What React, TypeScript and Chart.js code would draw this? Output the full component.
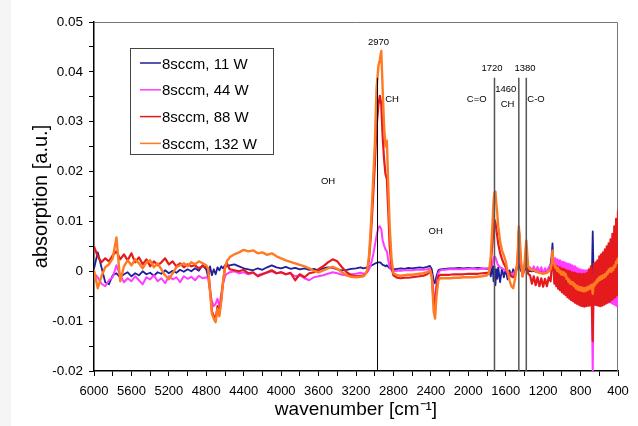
import React, { useEffect, useRef } from "react";
import { Chart, registerables } from "chart.js";

Chart.register(...registerables);

// ---------- data (wavenumber in cm^-1, absorption in a.u.) ----------
const wavenumbers = [
  6000, 5960, 5920, 5880, 5840, 5800, 5760, 5720, 5680, 5640, 5600, 5560, 5520, 5480, 5440, 5400,
  5360, 5320, 5280, 5240, 5200, 5160, 5120, 5080, 5040, 5000, 4960, 4920, 4880, 4840, 4800,
  4780, 4760, 4740, 4720, 4700, 4680, 4660, 4640, 4620, 4600, 4580,
  4550, 4500, 4450, 4400, 4350, 4300, 4250, 4200, 4150, 4100, 4050, 4000, 3950, 3900, 3850, 3800,
  3750, 3700, 3650, 3600, 3550, 3500, 3450, 3400, 3350, 3300, 3250, 3200, 3150,
  3120, 3100, 3080, 3060, 3040, 3020, 3000, 2980, 2960, 2945, 2930, 2915, 2900, 2885, 2870, 2855,
  2840, 2820, 2800,
  2760, 2720, 2680, 2640, 2600, 2560, 2520, 2480, 2440, 2410, 2390, 2370, 2355, 2340, 2320, 2300,
  2250, 2200, 2150, 2100, 2050, 2000, 1950, 1900, 1850, 1800,
  1780, 1760, 1740, 1730, 1720, 1710, 1700, 1690, 1680, 1660,
  1640, 1620, 1600, 1580, 1560, 1540, 1520, 1500, 1480, 1470,
  1460, 1450, 1440, 1420, 1400, 1390, 1380, 1370, 1360, 1340,
  1320, 1300, 1280, 1260, 1240, 1220, 1200, 1180, 1160, 1140,
  1120,
];

const abs11W = [
  0.0005, 0.0038, 0.0008, -0.0022, -0.0026, -0.0008, -0.0004, -0.0012, -0.0006, -0.0002, -0.001,
  -0.0004, -0.0008, 0.0, -0.0006, -0.0003, -0.0009, -0.0002, -0.0005, 0.0002, -0.0004, 0.0001,
  -0.0003, 0.0003, -0.0001, 0.0004, 0.0, 0.0006, 0.0001, 0.0012, 0.0004,
  -0.0012, 0.001, -0.0008, 0.0004, -0.0006, 0.0008, 0.0002, 0.001, 0.0006, 0.0012, 0.001,
  0.0012, 0.0014, 0.001, 0.0006, 0.0004, 0.0002, 0.0006, 0.0003, 0.0008, 0.0012,
  0.0008, 0.0006, 0.0009, 0.0005, 0.0007, 0.0004, 0.0006, 0.0003, 0.0005, 0.0002,
  0.0006, 0.0008, 0.0007, 0.0004, 0.0002, 0.0003, 0.0005, 0.0006, 0.0008,
  0.0006, 0.0007, 0.0008, 0.001, 0.0011, 0.0013, 0.0015, 0.0017, 0.0018, 0.0018, 0.0016, 0.0013,
  0.0012, 0.001, 0.0012, 0.0009, 0.0006, 0.0005, 0.0004,
  0.0005, 0.0006, 0.0005, 0.0007, 0.0006, 0.0007, 0.0008, 0.0007, 0.0009, 0.0011, 0.0004, -0.0018,
  -0.0024, -0.001, 0.0002, 0.0004,
  0.0005, 0.0006, 0.0006, 0.0007, 0.0006, 0.0007, 0.0006, 0.0007, 0.0006, 0.0005,
  0.0006, -0.001, 0.0012, -0.002, 0.001, -0.0028, 0.0004, -0.0015, 0.0008, -0.0022,
  0.0006, -0.0012, 0.0004, -0.0016, 0.0002, -0.001, 0.0004, -0.0008, 0.0006, 0.001,
  0.0016, 0.0008, 0.0002, -0.0004, 0.0002, 0.0004, 0.0006, 0.0002, 0.0, 0.0001,
  0.0, 0.0001, -0.0001, 0.0, -0.0001, 0.0, -0.0001, 0.0, 0.0001, 0.0004,
  0.0015,
];

const abs44W = [
  -0.0004, -0.0012, -0.0025, -0.003, -0.0018, -0.0012, 0.0012, -0.0008, -0.0022, -0.0014, -0.002,
  -0.001, -0.0018, -0.0026, -0.0012, -0.0016, -0.0008, -0.002, -0.0014, -0.0024, -0.001, -0.0016,
  -0.0012, -0.0022, -0.001, -0.0015, -0.0011, -0.0018, -0.0009, -0.0014, -0.0012,
  -0.0015, -0.004, -0.006, -0.007, -0.0065, -0.0055, -0.007, -0.0045, -0.0025, -0.001, -0.0005,
  -0.0002, 0.0, -0.0004, -0.0002, -0.0006, -0.0003, -0.0008, -0.0005, -0.0003, 0.0,
  -0.0004, -0.0002, -0.0006, -0.0004, -0.001, -0.0008, -0.0014, -0.0018, -0.0012, -0.001,
  -0.0008, -0.0005, -0.0002, -0.0004, -0.0007, -0.0008, -0.0006, -0.0005, -0.0003,
  -0.0005, -0.0004, -0.0002, 0.0004, 0.0014, 0.003, 0.005, 0.0072, 0.0088, 0.009, 0.0085, 0.0062,
  0.0052, 0.0044, 0.004, 0.0022, 0.0008, 0.0002, 0.0,
  0.0001, 0.0001, 0.0002, 0.0002, 0.0002, 0.0003, 0.0003, 0.0003, 0.0004, 0.0006, -0.0008, -0.0048,
  -0.0055, -0.0025, -0.0003, 0.0002,
  0.0003, 0.0004, 0.0004, 0.0004, 0.0004, 0.0005, 0.0005, 0.0004, 0.0005, 0.0006,
  0.0006, 0.0008, 0.0015, 0.0025, 0.003, 0.0028, 0.0022, 0.0016, 0.0012, 0.0008,
  0.0006, 0.0004, 0.0002, -0.0002, -0.0004, -0.0006, -0.0004, 0.0, 0.0008, 0.0018,
  0.0032, 0.0022, 0.001, 0.0002, 0.0008, 0.0014, 0.002, 0.0012, 0.0006, 0.0008,
  0.0002, 0.001, 0.0, 0.0009, -0.0002, 0.0008, -0.0004, 0.0006, -0.0002, 0.0008,
  0.0012,
];

const abs88W = [
  0.005, 0.003, 0.0018, 0.0026, 0.002, 0.0032, 0.004, 0.0024, 0.0034, 0.0022, 0.0036, 0.0018,
  0.0028, 0.0014, 0.0024, 0.001, 0.002, 0.0012, 0.0018, 0.0026, 0.0014, 0.002, 0.001, 0.0016,
  0.0008, 0.0014, 0.001, 0.0012, 0.0006, 0.001, 0.0008,
  0.0005, -0.0036, -0.008, -0.009, -0.0096, -0.007, -0.0085, -0.0056, -0.0019, 0.0006, 0.0016,
  0.0004, 0.0002, 0.0, 0.0003, -0.0004, -0.0002, -0.001, -0.0006, -0.0002, 0.0002,
  -0.0004, -0.0002, -0.0006, -0.0003, -0.0018, -0.0006, -0.0012, -0.0004, -0.0002, 0.0004,
  0.001, 0.0018, 0.0024, 0.002, 0.0008, -0.0002, -0.0008, -0.001, -0.0009,
  -0.0009, -0.0005, 0.0001, 0.0025, 0.0075, 0.014, 0.021, 0.029, 0.0335, 0.0352, 0.0335, 0.027,
  0.0225, 0.0195, 0.0185, 0.012, 0.005, 0.0008, -0.0008,
  -0.0013, -0.0014, -0.0013, -0.0013, -0.0012, -0.0011, -0.001, -0.0009, -0.0006, 0.0, -0.001,
  -0.006, -0.0072, -0.0035, -0.001, -0.0007,
  -0.0007, -0.0007, -0.0006, -0.0006, -0.0006, -0.0005, -0.0005, -0.0005, -0.0004, -0.0003,
  -0.0003, 0.0015, 0.006, 0.0092, 0.0103, 0.0098, 0.0083, 0.007, 0.0055, 0.0037,
  0.0025, 0.0015, 0.0008, 0.0, -0.0005, -0.001, -0.0012, -0.0006, 0.001, 0.0035,
  0.0082, 0.006, 0.002, -0.001, 0.0005, 0.0025, 0.0042, 0.002, -0.0005, -0.0008,
  -0.0025, -0.001, -0.0028, -0.0012, -0.003, -0.0014, -0.0031, -0.0015, -0.003, -0.0012,
  -0.002,
];

const abs132W = [
  0.0002, -0.0034, -0.001, 0.0008, 0.0014, 0.0026, 0.0068, -0.002, 0.001, 0.0022, 0.0012, 0.0024,
  0.0016, 0.0006, 0.0018, 0.0022, 0.0008, 0.0016, 0.0004, -0.0008, -0.0016, -0.0004, 0.0008,
  0.0012, 0.0016, 0.001, 0.0018, 0.0014, 0.002, 0.0016, 0.0012,
  0.0005, -0.004, -0.0085, -0.0095, -0.0102, -0.0075, -0.009, -0.006, -0.002, 0.0008, 0.002,
  0.0028, 0.0034, 0.0038, 0.0043, 0.004, 0.0042, 0.0036, 0.0038, 0.0033, 0.0036,
  0.003, 0.0026, 0.0022, 0.0019, 0.0016, 0.0013, 0.001, 0.0006, 0.0001, -0.0002,
  0.0002, 0.0006, 0.0009, 0.0005, -0.0002, -0.0008, -0.0011, -0.0012, -0.0011,
  -0.001, -0.0006, 0.0002, 0.0033, 0.0095, 0.017, 0.025, 0.0368, 0.0412, 0.0425, 0.0442, 0.0365,
  0.029, 0.025, 0.0262, 0.017, 0.009, 0.0025, -0.0004,
  -0.0008, -0.0009, -0.0008, -0.0007, -0.0007, -0.0006, -0.0005, -0.0004, -0.0002, 0.0002, -0.001,
  -0.008, -0.0095, -0.005, -0.0018, -0.0014,
  -0.0014, -0.0014, -0.0013, -0.0013, -0.0012, -0.0012, -0.0012, -0.0011, -0.001, -0.0008,
  -0.0004, 0.003, 0.01, 0.014, 0.0158, 0.016, 0.0135, 0.0115, 0.009, 0.006,
  0.0042, 0.0032, 0.002, 0.0, -0.0018, -0.003, -0.0034, -0.0015, 0.0012, 0.004,
  0.009, 0.007, 0.0028, -0.001, 0.0012, 0.004, 0.0062, 0.0035, 0.001, 0.0004,
  0.0002, 0.0003, 0.0, -0.0002, -0.0003, -0.0004, -0.0005, -0.0004, -0.0003, 0.0,
  0.0004,
];

const tailWavenumbers = [
  1110, 1100, 1090, 1080, 1070, 1060, 1050, 1040, 1030, 1020,
  1010, 1000, 990, 980, 970, 960, 950, 940, 930, 920,
  910, 900, 890, 880, 870, 860, 850, 840, 830, 820,
  810, 800, 790, 780, 770, 760, 750, 740, 730, 720,
  710, 700, 690, 680, 670, 660, 650, 640, 630, 620,
  610, 600, 590, 580, 570, 560, 550, 540, 530, 520,
  510, 500, 490, 480, 470, 460, 450, 440, 430, 420,
  410, 400,
];

const tail11W = [
  0.003, 0.0056, 0.0015, 0.0002, -0.0002, -0.0004, -0.0005, -0.0006, -0.0007, -0.0008,
  -0.0009, -0.001, -0.0011, -0.0012, -0.0012, -0.0013, -0.0014, -0.0015, -0.0015, -0.0016,
  -0.0016, -0.0017, -0.0017, -0.0018, -0.0018, -0.0019, -0.0019, -0.002, -0.002, -0.002,
  -0.0021, -0.0021, -0.0021, -0.0021, -0.0021, -0.0021, -0.002, -0.002, -0.002, -0.0019,
  -0.0019, -0.0018, -0.0018, -0.0017, 0.008, -0.0016, -0.0016, -0.0015, -0.0015, -0.0014,
  -0.0014, -0.0013, -0.0013, -0.0012, -0.0012, -0.0011, -0.0011, -0.001, -0.001, -0.0009,
  -0.0009, -0.0008, -0.0008, -0.0007, -0.0007, -0.0006, -0.0006, -0.0005, -0.0005, -0.0004,
  -0.0004, -0.0003,
];

const tail44W = [
  0.001, 0.004, 0.0025, -0.001, 0.0026, -0.0012, 0.0024, -0.0015, 0.0022, -0.0018,
  0.002, -0.002, 0.0019, -0.0022, 0.0018, -0.0025, 0.0016, -0.0027, 0.0015, -0.003,
  0.0014, -0.0032, 0.0012, -0.0034, 0.001, -0.0035, 0.0008, -0.0036, 0.0006, -0.0038,
  0.0004, -0.004, 0.0003, -0.0041, 0.0002, -0.0042, 0.0002, -0.0043, 0.0002, -0.0044,
  0.0003, -0.0045, 0.0004, -0.0046, -0.021, 0.0005, -0.0048, 0.0006, -0.005, 0.0008,
  -0.0052, 0.001, -0.0054, 0.0012, -0.0055, 0.0014, -0.0057, 0.0016, -0.0058, 0.002,
  -0.006, 0.0024, -0.0062, 0.0028, -0.0064, 0.0032, -0.0066, 0.0038, -0.0068, 0.0045,
  -0.007, 0.005,
];

const tail88W = [
  0.0005, 0.0035, 0.001, -0.0025, 0.0012, -0.003, 0.001, -0.0035, 0.0008, -0.0038,
  0.0006, -0.0042, 0.0005, -0.0045, 0.0004, -0.0048, 0.0002, -0.0052, 0.0001, -0.0055,
  0.0, -0.0058, -0.0002, -0.006, -0.0003, -0.0063, -0.0004, -0.0065, -0.0005, -0.0067,
  -0.0005, -0.0069, -0.0006, -0.007, -0.0005, -0.0071, -0.0005, -0.007, -0.0003, -0.0069,
  0.0004, -0.0068, 0.001, -0.0067, -0.014, 0.0015, -0.0067, 0.0018, -0.0068, 0.0022,
  -0.0069, 0.003, -0.007, 0.0034, -0.0069, 0.0038, -0.0067, 0.0044, -0.0065, 0.005,
  -0.0063, 0.0056, -0.0061, 0.0064, -0.0058, 0.0075, -0.0055, 0.009, -0.0052, 0.0105,
  -0.0048, 0.0122,
];

const tail132W = [
  0.0013, 0.0042, 0.0017, 0.0015, 0.0007, 0.0009, 0.0001, 0.0006, -0.0002, 0.0001,
  -0.0006, -0.0001, -0.0007, -0.0002, -0.0009, -0.0005, -0.0015, -0.0013, -0.0021, -0.0017,
  -0.0025, -0.0021, -0.0026, -0.0022, -0.003, -0.0026, -0.0034, -0.0029, -0.0037, -0.0031,
  -0.0038, -0.0032, -0.0039, -0.0033, -0.004, -0.0034, -0.004, -0.0033, -0.0038, -0.0031,
  -0.0036, -0.0029, -0.0034, -0.0027, -0.0045, -0.0025, -0.0029, -0.0021, -0.0024, -0.0016,
  -0.002, -0.0012, -0.0017, -0.001, -0.0015, -0.0008, -0.0013, -0.0006, -0.001, -0.0002,
  -0.0005, 0.0003, -0.0001, 0.0006, -0.0001, 0.0007, 0.0003, 0.0011, 0.0009, 0.0019,
  0.0017, 0.0027,
];

const seriesLabels = ["8sccm, 11 W", "8sccm, 44 W", "8sccm, 88 W", "8sccm, 132 W"];
const bandWavenumbers = [2970, 1720, 1460, 1380];
const bandLineRange = [-0.02, 0.0388];
const bandLabels = [
  { text: "2970", x: 2960, y: 0.046 },
  { text: "CH", x: 2815, y: 0.0345 },
  { text: "1720", x: 1747, y: 0.0406 },
  { text: "1380", x: 1394, y: 0.0406 },
  { text: "1460", x: 1600, y: 0.0365 },
  { text: "CH", x: 1580, y: 0.0335 },
  { text: "C=O", x: 1910, y: 0.0345 },
  { text: "C-O", x: 1276, y: 0.0345 },
  { text: "OH", x: 3499, y: 0.0181 },
  { text: "OH", x: 2348, y: 0.0081 },
];

// ---------- styling ----------
const FONT = "'Liberation Sans', Arial, Helvetica, sans-serif";
const seriesColors = ["#1f1f99", "#ff3cff", "#e41a1c", "#ff7a22"];
const seriesWidths = [1.8, 2, 2.2, 2.4];
const bandColors = ["#000000", "#555555", "#555555", "#555555"];

function toPoints(xs: number[], ys: number[], xt: number[], yt: number[]) {
  const pts = xs.map((x, i) => ({ x, y: ys[i] }));
  return pts.concat(xt.map((x, i) => ({ x, y: yt[i] })));
}

const decorPlugin = {
  id: "decor",
  beforeDatasetsDraw(chart: any) {
    const { ctx, chartArea: a } = chart;
    ctx.save();
    ctx.strokeStyle = "#777";
    ctx.lineWidth = 1;
    ctx.beginPath();
    ctx.moveTo(a.left, a.top + 0.5);
    ctx.lineTo(a.right - 0.5, a.top + 0.5);
    ctx.lineTo(a.right - 0.5, a.bottom);
    ctx.stroke();
    ctx.restore();
  },
  afterDatasetsDraw(chart: any) {
    const { ctx, chartArea: a } = chart;
    const xs = chart.scales.x;
    const ys = chart.scales.y;
    ctx.save();
    ctx.fillStyle = "#000";
    ctx.font = `9.5px ${FONT}`;
    ctx.textAlign = "center";
    ctx.textBaseline = "middle";
    for (const l of bandLabels) {
      ctx.fillText(l.text, xs.getPixelForValue(l.x), ys.getPixelForValue(l.y));
    }
    // legend box
    const lx = a.left + 36;
    const ly = a.top + 26;
    const lw = 143;
    const lh = 106;
    ctx.fillStyle = "#fff";
    ctx.fillRect(lx, ly, lw, lh);
    ctx.strokeStyle = "#444";
    ctx.lineWidth = 1;
    ctx.strokeRect(lx + 0.5, ly + 0.5, lw, lh);
    ctx.font = `15px ${FONT}`;
    ctx.textAlign = "left";
    ctx.textBaseline = "middle";
    seriesLabels.forEach((label, i) => {
      const y = ly + 15 + i * 26.8;
      ctx.strokeStyle = seriesColors[i];
      ctx.lineWidth = 1.5;
      ctx.beginPath();
      ctx.moveTo(lx + 10, y);
      ctx.lineTo(lx + 31, y);
      ctx.stroke();
      ctx.fillStyle = "#000";
      ctx.fillText(label, lx + 32, y + 1.5);
    });
    ctx.restore();
  },
};

export default function App() {
  const ref = useRef<HTMLCanvasElement | null>(null);

  useEffect(() => {
    if (!ref.current) return;
    Chart.defaults.font.family = FONT;
    const main = [abs11W, abs44W, abs88W, abs132W];
    const tails = [tail11W, tail44W, tail88W, tail132W];
    const seriesSets = seriesLabels.map((label, i) => ({
      label,
      data: toPoints(wavenumbers, main[i], tailWavenumbers, tails[i]),
      borderColor: seriesColors[i],
      borderWidth: seriesWidths[i],
      borderJoinStyle: "round",
      pointRadius: 0,
      tension: 0,
      fill: false,
      order: 4 - i,
    }));
    const bandSets = bandWavenumbers.map((w, i) => ({
      label: `band ${w}`,
      data: bandLineRange.map((y) => ({ x: w, y })),
      borderColor: bandColors[i],
      borderWidth: i === 0 ? 1 : 1.5,
      pointRadius: 0,
      fill: false,
      order: 0,
    }));

    const chart = new Chart(ref.current, {
      type: "line",
      data: { datasets: [...seriesSets, ...bandSets] as any },
      options: {
        responsive: false,
        animation: false,
        events: [],
        layout: { padding: { top: 22, right: 20, left: 0, bottom: 0 } },
        plugins: { legend: { display: false }, tooltip: { enabled: false } },
        scales: {
          x: {
            type: "linear",
            min: 400,
            max: 6000,
            reverse: true,
            afterFit: (s: any) => {
              s.height = 55;
            },
            ticks: {
              stepSize: 200,
              maxTicksLimit: 100,
              autoSkip: false,
              maxRotation: 0,
              minRotation: 0,
              padding: 8,
              color: "#000",
              font: { size: 13, family: FONT },
              callback: (v: any) => (Math.round(6000 - Number(v)) % 400 === 0 ? String(v) : ""),
            },
            grid: { drawOnChartArea: false, drawTicks: true, tickLength: 5, color: "#000", lineWidth: 1 },
            border: { color: "#000", width: 1.5 },
            title: {
              display: true,
              text: "wavenumber [cm⁻¹]",
              color: "#000",
              font: { size: 19, family: FONT },
              padding: { top: 0, bottom: 5 },
            },
          },
          y: {
            type: "linear",
            min: -0.02,
            max: 0.05,
            afterFit: (s: any) => {
              s.width = 94;
            },
            ticks: {
              stepSize: 0.005,
              maxTicksLimit: 100,
              autoSkip: false,
              padding: 6,
              color: "#000",
              font: { size: 13.5, family: FONT },
              callback: (v: any) => {
                const k = Math.round(Number(v) * 1000);
                return k % 10 === 0 ? String(k / 1000) : "";
              },
            },
            grid: { drawOnChartArea: false, drawTicks: true, tickLength: 5, color: "#000", lineWidth: 1 },
            border: { color: "#000", width: 1.5 },
            title: {
              display: true,
              text: "absorption [a.u.]",
              color: "#000",
              font: { size: 20, family: FONT },
              padding: { top: 29, bottom: 0 },
            },
          },
        },
      },
      plugins: [decorPlugin],
    });
    return () => chart.destroy();
  }, []);

  return (
    <div style={{ position: "absolute", left: 0, top: 0, width: 638, height: 426, background: "#fff" }}>
      <div style={{ position: "absolute", left: 0, top: 0, width: 11, height: 426, background: "#f5f5f5" }} />
      <canvas ref={ref} width={638} height={426} style={{ position: "absolute", left: 0, top: 0 }} />
    </div>
  );
}
